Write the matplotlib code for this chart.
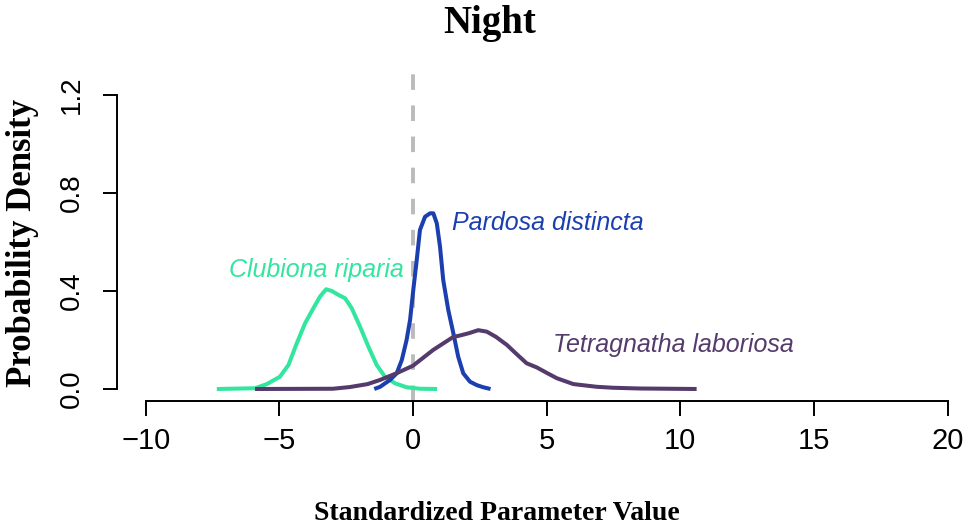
import matplotlib
matplotlib.use("Agg")
import matplotlib.pyplot as plt

# Clubiona riparia (green)
club_x = [-7.34, -5.91, -5.47, -4.98, -4.66, -4.35, -4.04, -3.73, -3.48, -3.25, -3.04, -2.79,
          -2.54, -2.29, -1.98, -1.67, -1.36, -1.05, -0.67, -0.24, 0.26, 0.9]
club_y = [0.0, 0.003, 0.020, 0.050, 0.098, 0.186, 0.268, 0.329, 0.377, 0.407, 0.400, 0.384,
          0.370, 0.329, 0.254, 0.173, 0.098, 0.050, 0.023, 0.007, 0.001, 0.0]

# Pardosa distincta (blue)
pard_x = [-1.45, -1.23, -0.86, -0.61, -0.42, -0.24, -0.11, 0.01, 0.14, 0.26, 0.45, 0.64, 0.76,
          0.89, 1.01, 1.13, 1.32, 1.51, 1.69, 1.88, 2.13, 2.38, 2.63, 2.9]
pard_y = [0.0, 0.009, 0.037, 0.064, 0.118, 0.200, 0.282, 0.404, 0.527, 0.649, 0.703, 0.717, 0.717,
          0.676, 0.581, 0.445, 0.322, 0.227, 0.132, 0.064, 0.030, 0.016, 0.007, 0.0]

# Tetragnatha laboriosa (purple)
tetr_x = [-5.91, -3.0, -2.36, -1.7, -1.23, -0.6, 0.0, 0.75, 1.50, 1.82, 2.1, 2.44, 2.76, 3.1,
          3.51, 3.9, 4.25, 4.63, 5.0, 5.38, 6.0, 6.87, 7.49, 8.5, 10.61]
tetr_y = [0.0, 0.001, 0.008, 0.020, 0.037, 0.065, 0.095, 0.159, 0.212, 0.220, 0.228, 0.240, 0.234, 0.213,
          0.180, 0.140, 0.105, 0.088, 0.066, 0.044, 0.020, 0.009, 0.005, 0.002, 0.0]

x_ticks = [-10, -5, 0, 5, 10, 15, 20]
y_ticks = [0.0, 0.4, 0.8, 1.2]
y_ticklabels = ["0.0", "0.4", "0.8", "1.2"]

GREEN = "#33e6a0"
BLUE = "#1c3fb0"
PURPLE = "#553b6c"

fig = plt.figure(figsize=(9.69, 5.31), dpi=100)
ax = fig.add_axes([117 / 969, 130 / 531, 852 / 969, 334 / 531])

ax.axvline(0, color="#bbbbbb", lw=2.8, dashes=(4.0, 4.0))
line_kw = dict(lw=2.9, solid_joinstyle="round", solid_capstyle="butt")
ax.plot(club_x, club_y, color=GREEN, **line_kw)
ax.plot(pard_x, pard_y, color=BLUE, **line_kw)
ax.plot(tetr_x, tetr_y, color=PURPLE, **line_kw)

ax.set_xlim(-11.074, 20.80)
ax.set_ylim(-0.049, 1.314)

for s in ["top", "right"]:
    ax.spines[s].set_visible(False)
ax.spines["left"].set_bounds(0, 1.2)
ax.spines["bottom"].set_bounds(-10, 20)
for s in ["left", "bottom"]:
    ax.spines[s].set_linewidth(1.4)
    ax.spines[s].set_color("black")

ax.set_xticks(x_ticks)
ax.set_xticklabels([str(t).replace("-", "\u2212") for t in x_ticks],
                   fontfamily="Liberation Sans", fontsize=21)
ax.set_yticks(y_ticks)
ax.set_yticklabels(y_ticklabels, fontfamily="Liberation Sans", fontsize=20,
                   rotation=90, va="center")
ax.tick_params(axis="x", length=11, width=1.4, pad=8)
ax.tick_params(axis="y", length=10, width=1.4, pad=13)

ax.text(-3.63, 0.486, "Clubiona riparia", color=GREEN, fontsize=18, style="italic",
        fontfamily="Liberation Sans", ha="center", va="center")
ax.text(5.05, 0.678, "Pardosa distincta", color=BLUE, fontsize=18, style="italic",
        fontfamily="Liberation Sans", ha="center", va="center")
ax.text(9.73, 0.18, "Tetragnatha laboriosa", color=PURPLE, fontsize=18, style="italic",
        fontfamily="Liberation Sans", ha="center", va="center")

fig.text(490 / 969, 1 - 24 / 531, "Night", fontfamily="Liberation Serif", fontweight="bold",
         fontsize=28, ha="center", va="center")
fig.text(497 / 969, 1 - 514 / 531, "Standardized Parameter Value", fontfamily="Liberation Serif",
         fontweight="bold", fontsize=20, ha="center", va="center")
fig.text(23 / 969, 1 - 243 / 531, "Probability Density", fontfamily="Liberation Serif",
         fontweight="bold", fontsize=25, ha="center", va="center", rotation=90)

fig.savefig("out.png", dpi=100)
